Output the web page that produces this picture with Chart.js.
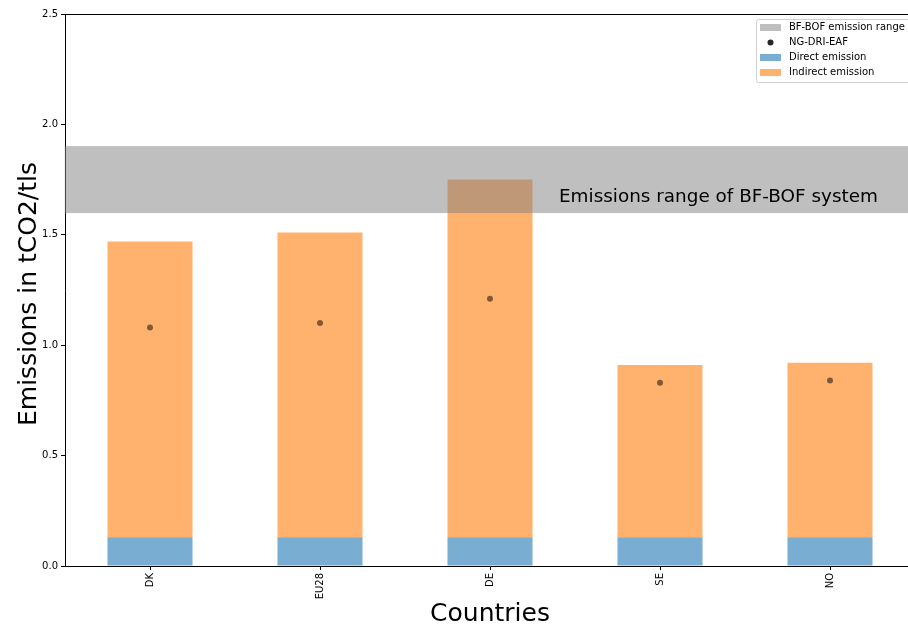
<!DOCTYPE html>
<html>
<head>
<meta charset="utf-8">
<script src="https://cdn.jsdelivr.net/npm/chart.js@4.4.1/dist/chart.umd.min.js"></script>
<style>
  html, body { margin: 0; padding: 0; background: #fff; overflow: hidden; }
  #wrap { width: 920px; height: 628px; }
</style>
</head>
<body>
<div id="wrap"><canvas id="c" width="920" height="628"></canvas></div>
<script>
// Emission intensity of NG-DRI-EAF steelmaking by country (tCO2 per tonne liquid steel)
const countries = ['DK', 'EU28', 'DE', 'SE', 'NO'];
const directEmission = [0.13, 0.13, 0.13, 0.13, 0.13];
const indirectEmission = [1.34, 1.38, 1.62, 0.78, 0.79];
const ngDriEaf = [1.08, 1.10, 1.21, 0.83, 0.84];
const bfBofRange = [1.6, 1.9];
const yTicks = [0, 0.5, 1.0, 1.5, 2.0, 2.5];

const FONT = "'DejaVu Sans', sans-serif";
Chart.defaults.font.family = FONT;
Chart.defaults.color = '#000';

const ORANGE = 'rgba(255,127,14,0.6)';
const BLUE = 'rgba(31,119,180,0.6)';
const BAND = 'rgba(128,128,128,0.5)';

const decorations = {
  id: 'decorations',
  afterDatasetsDraw(chart) {
    const { ctx, chartArea: a, scales: { y } } = chart;
    const yTop = y.getPixelForValue(bfBofRange[1]);
    const yBot = y.getPixelForValue(bfBofRange[0]);
    ctx.save();
    ctx.fillStyle = BAND;
    ctx.fillRect(a.left, yTop, a.right - a.left, yBot - yTop);
    ctx.strokeStyle = 'rgba(128,128,128,0.25)';
    ctx.lineWidth = 1;
    ctx.strokeRect(a.left, yTop, a.right - a.left, yBot - yTop);
    ctx.fillStyle = '#000';
    ctx.font = '18.4px ' + FONT;
    ctx.textBaseline = 'alphabetic';
    ctx.textAlign = 'left';
    ctx.fillText('Emissions range of BF-BOF system', 559, 202);
    ctx.restore();
  },
  afterDraw(chart) {
    const { ctx, chartArea: a } = chart;
    ctx.save();
    // frame
    ctx.strokeStyle = '#000';
    ctx.lineWidth = 1;
    ctx.beginPath();
    ctx.moveTo(a.left, a.top + 0.5);
    ctx.lineTo(a.right, a.top + 0.5);
    ctx.moveTo(a.right - 0.5, a.top);
    ctx.lineTo(a.right - 0.5, a.bottom);
    ctx.stroke();

    // axis titles
    ctx.fillStyle = '#000';
    ctx.font = '25px ' + FONT;
    ctx.textAlign = 'center';
    ctx.textBaseline = 'middle';
    ctx.fillText('Countries', (a.left + a.right) / 2, 614);
    ctx.save();
    ctx.translate(29, (a.top + a.bottom) / 2 + 4);
    ctx.rotate(-Math.PI / 2);
    ctx.fillText('Emissions in tCO2/tls', 0, 0);
    ctx.restore();

    // legend
    const lx = 756, ly = 19, lw = 160, lh = 63;
    ctx.fillStyle = 'rgba(255,255,255,0.8)';
    ctx.strokeStyle = '#d0d0d0';
    ctx.beginPath();
    ctx.roundRect(lx + 0.5, ly + 0.5, lw, lh, 2);
    ctx.fill();
    ctx.stroke();
    const items = [
      { label: 'BF-BOF emission range', kind: 'patch', color: BAND },
      { label: 'NG-DRI-EAF', kind: 'dot', color: 'rgba(0,0,0,0.85)' },
      { label: 'Direct emission', kind: 'patch', color: BLUE },
      { label: 'Indirect emission', kind: 'patch', color: ORANGE }
    ];
    ctx.font = '10px ' + FONT;
    ctx.textAlign = 'left';
    ctx.textBaseline = 'middle';
    items.forEach((it, i) => {
      const cy = 27.5 + i * 15;
      if (it.kind === 'patch') {
        ctx.fillStyle = it.color;
        ctx.fillRect(760, cy - 3.5, 21, 7);
      } else {
        ctx.fillStyle = it.color;
        ctx.beginPath();
        ctx.arc(770.5, cy, 3, 0, Math.PI * 2);
        ctx.fill();
      }
      ctx.fillStyle = '#000';
      ctx.fillText(it.label, 789, cy);
    });
    ctx.restore();
  }
};

new Chart(document.getElementById('c'), {
  data: {
    labels: countries,
    datasets: [
      {
        type: 'line',
        label: 'NG-DRI-EAF',
        data: ngDriEaf,
        showLine: false,
        pointRadius: 3,
        pointHoverRadius: 3,
        pointBackgroundColor: 'rgba(0,0,0,0.5)',
        pointBorderWidth: 0,
        order: 0
      },
      {
        type: 'bar',
        label: 'Direct emission',
        data: directEmission,
        backgroundColor: BLUE,
        stack: 's',
        order: 1
      },
      {
        type: 'bar',
        label: 'Indirect emission',
        data: indirectEmission,
        backgroundColor: ORANGE,
        stack: 's',
        order: 1
      }
    ]
  },
  options: {
    responsive: false,
    animation: false,
    events: [],
    layout: { padding: { left: 0, top: 14, right: 5, bottom: 0 } },
    plugins: { legend: { display: false }, tooltip: { enabled: false } },
    datasets: { bar: { categoryPercentage: 1.0, barPercentage: 0.5 } },
    scales: {
      x: {
        stacked: true,
        offset: true,
        grid: { offset: false, drawOnChartArea: false, drawTicks: true, tickLength: 4, color: '#000' },
        border: { display: true, color: '#000', width: 1 },
        ticks: { font: { size: 10 }, color: '#000', minRotation: 90, maxRotation: 90, padding: 3 },
        afterFit(s) { s.height = 62; }
      },
      y: {
        stacked: true,
        min: 0,
        max: 2.5,
        grid: { drawOnChartArea: false, drawTicks: true, tickLength: 4, color: '#000' },
        border: { display: true, color: '#000', width: 1 },
        ticks: { font: { size: 10 }, color: '#000', padding: 3 },
        afterBuildTicks(s) { s.ticks = yTicks.map(v => ({ value: v })); },
        afterTickToLabelConversion(s) { s.ticks.forEach(t => { t.label = t.value.toFixed(1); }); },
        afterFit(s) { s.width = 65; }
      }
    }
  },
  plugins: [decorations]
});
</script>
</body>
</html>
